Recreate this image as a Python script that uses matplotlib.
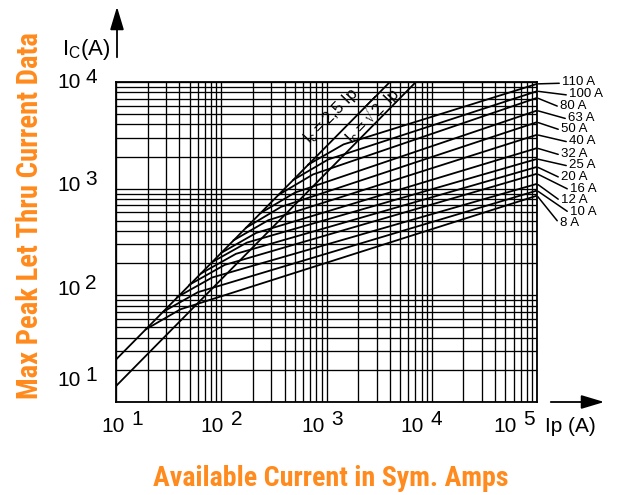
import matplotlib.pyplot as plt
from matplotlib.patches import FancyArrowPatch
import numpy as np

# fuse ratings, top curve first
ratings = ['110 A', '100 A', '80 A', '63 A', '50 A', '40 A', '32 A',
           '25 A', '20 A', '16 A', '12 A', '10 A', '8 A']

# each curve leaves the 2.5 Ip line, bends, then runs out to Ip = 100 kA
start_ip = [670, 485, 350, 236, 172, 131, 100, 82, 64, 50, 38, 28, 19.2]
start_ic = [1680, 1210, 875, 590, 430, 328, 250, 205, 160, 126, 96, 70, 48]
bend_ip = [1450, 1040, 745, 503, 370, 280, 215, 175, 138, 108, 82, 60, 41]
bend_ic = [2600, 1880, 1360, 920, 675, 506, 385, 312, 245, 193, 147, 107, 74]
end_ip = 1e5
end_ic = [9600, 8200, 7100, 5400, 4200, 3200, 2400, 1900, 1600, 1380, 1110, 960, 860]

# prospective peak lines
peak25_ip = [10, 4000]
peak25_ic = [25, 10000]
peak14_ip = [10, 7071]
peak14_ic = [14.1, 10000]

x_exp = [1, 2, 3, 4, 5]
y_exp = [1, 2, 3, 4]

# label anchors for the ratings (figure pixels, from top-left)
lab_x = [562, 569, 560, 568, 561, 569, 561, 569, 561, 570, 561, 570, 560]
lab_y = [82, 94, 106, 118, 129, 141, 154, 165, 177, 189, 200, 212, 223]

W, H = 630, 495
orange = '#ff8a1d'
plt.rcParams['font.family'] = ['Liberation Sans', 'DejaVu Sans']
narrow = ['Roboto Condensed', 'Open Sans Condensed', 'Liberation Sans Narrow',
          'DejaVu Sans Condensed', 'DejaVu Sans']

fig = plt.figure(figsize=(W / 100, H / 100), dpi=100)
ax = fig.add_axes([116 / W, (H - 402) / H, (537 - 116) / W, (402 - 82) / H])

ax.set_xscale('log')
ax.set_yscale('log')
ax.set_xlim(10, 1e5)
ax.set_ylim(10, 1e4)
ax.tick_params(which='both', length=0, labelbottom=False, labelleft=False)
ax.grid(True, which='both', color='black', lw=0.95)
ax.set_axisbelow(True)
for s in ax.spines.values():
    s.set_linewidth(1.3)

# peak lines
ax.plot(peak25_ip, peak25_ic, color='black', lw=1.3)
ax.plot(peak14_ip, peak14_ic, color='black', lw=1.3)

# let-through curves
for i in range(len(ratings)):
    ax.plot([start_ip[i], bend_ip[i], end_ip],
            [start_ic[i], bend_ic[i], end_ic[i]], color='black', lw=1.3)
    ax.annotate(ratings[i], xy=(end_ip, end_ic[i]), xycoords='data',
                xytext=(lab_x[i], H - lab_y[i]), textcoords='figure pixels',
                ha='left', va='center', fontsize=9.5, annotation_clip=False,
                arrowprops=dict(arrowstyle='-', color='black', lw=1.1,
                                shrinkA=0, shrinkB=1, relpos=(0, 0.4)))

# line captions
ax.text(1100, 4800, r'$\mathregular{I_c = 2{,}5\ Ip}$', rotation=45.5,
        rotation_mode='anchor', ha='center', va='center', fontsize=12)
ax.text(2650, 4950, r'$\mathregular{I_c = \sqrt{2}\ Ip}$', rotation=45.5,
        rotation_mode='anchor', ha='center', va='center', fontsize=12)

# decade labels
xlab_pos = [-0.006, 0.229, 0.467, 0.703, 0.924]
for p, e in zip(xlab_pos, x_exp):
    ax.text(p, -0.075, '10', transform=ax.transAxes, ha='center',
            va='center', fontsize=15)
    ax.text(p + 0.057, -0.055, str(e), transform=ax.transAxes, ha='center',
            va='center', fontsize=15)

ylab_pos = [0.067, 0.352, 0.677, 0.998]
for p, e in zip(ylab_pos, y_exp):
    ax.text(-0.112, p, '10', transform=ax.transAxes, ha='center',
            va='center', fontsize=15)
    ax.text(-0.059, p + 0.017, str(e), transform=ax.transAxes, ha='center',
            va='center', fontsize=15)

# axis names and arrows
fig.text(545 / W, 1 - 426 / H, 'Ip (A)', ha='left', va='center', fontsize=15)
fig.text(62 / W, 1 - 49 / H, r'$\mathregular{I_C(A)}$', ha='left',
         va='center', fontsize=16)
for a, b in [((117, 60), (117, 4)), ((548, 402), (607, 402))]:
    fig.add_artist(FancyArrowPatch(
        (a[0] / W, 1 - a[1] / H), (b[0] / W, 1 - b[1] / H),
        transform=fig.transFigure,
        arrowstyle='-|>,head_length=1.0,head_width=0.3', mutation_scale=14,
        color='black', lw=1.3))

# orange titles, sized to fill their span
t1 = fig.text(30 / W, 1 - 216 / H, 'Max Peak Let Thru Current Data',
              rotation=90, ha='center', va='center', color=orange,
              fontsize=21, fontweight='bold', fontstretch='condensed',
              family=narrow)
t2 = fig.text(331 / W, 1 - 478 / H, 'Available Current in Sym. Amps',
              ha='center', va='center', color=orange, fontsize=21,
              fontweight='bold', fontstretch='condensed', family=narrow)
fig.canvas.draw()
r = fig.canvas.get_renderer()
t1.set_fontsize(21 * 365 / t1.get_window_extent(r).height)
t2.set_fontsize(21 * 356 / t2.get_window_extent(r).width)

fig.savefig('out.png', dpi=100)
